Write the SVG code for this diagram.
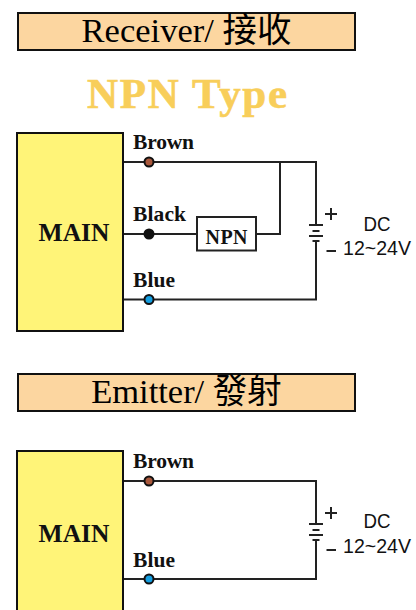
<svg xmlns="http://www.w3.org/2000/svg" width="416" height="610" viewBox="0 0 416 610">
<style>
.bar{fill:#fcd6a0;stroke:#111;stroke-width:2}
.main{fill:#fff478;stroke:#111;stroke-width:2}
.wire{fill:none;stroke:#222;stroke-width:2}
.cap{font-family:"Liberation Serif","Noto Sans CJK TC",serif;font-size:34.5px;fill:#000;text-anchor:middle}
.lab{font-family:"Liberation Serif",serif;font-size:21.5px;font-weight:bold;fill:#111}
.mn{font-family:"Liberation Serif",serif;font-size:25.5px;font-weight:bold;fill:#111;text-anchor:middle}
.dc{font-family:"Liberation Sans",sans-serif;font-size:20.5px;fill:#111;text-anchor:middle}
.dot{stroke:#111;stroke-width:2}
</style>
<defs>
<g id="batt">
<path class="wire" d="M-7 -1H7M-3.500 5H3.500M-7 10H7M-3.500 15H3.500"/>
<path class="wire" d="M9 -12H21M15 -18V-6M10.500 25H20"/>
</g>
</defs>
<g id="receiver-title"><rect class="bar" x="18" y="13" width="337" height="37"/><text class="cap" x="186.500" y="42">Receiver/ 接收</text></g>
<text id="type-title" x="187" y="108" font-family="Liberation Serif,serif" font-size="43" font-weight="bold" fill="#f8ce5a" stroke="#f8ce5a" stroke-width=".6" text-anchor="middle" textLength="200">NPN Type</text>
<g id="connectors-top">
<path class="wire" d="M123 162H316V225M316 241V299.500H123M123 234H197M256 234H280V162"/>
</g>
<g id="main-top"><rect class="main" x="17" y="133" width="106" height="198"/><text class="mn" x="74" y="241">MAIN</text></g>
<g id="npn"><rect x="197" y="217" width="59" height="33.500" fill="#fff" stroke="#222" stroke-width="2"/><text x="226.500" y="244" font-family="Liberation Serif,serif" font-size="20" font-weight="bold" fill="#111" text-anchor="middle" textLength="42">NPN</text></g>
<g id="brown-top"><circle class="dot" cx="149" cy="162" r="4.500" fill="#a9583c"/><text class="lab" x="133" y="149" textLength="61">Brown</text></g>
<g id="black-top"><circle class="dot" cx="149" cy="234" r="4.500" fill="#111"/><text class="lab" x="133" y="221" textLength="53">Black</text></g>
<g id="blue-top"><circle class="dot" cx="149" cy="299.500" r="4.500" fill="#149ee0"/><text class="lab" x="133" y="287" textLength="42">Blue</text></g>
<g id="supply-top"><use href="#batt" x="316" y="226"/><text class="dc" x="377" y="231" textLength="27" lengthAdjust="spacingAndGlyphs">DC</text><text class="dc" x="377" y="255" textLength="68" lengthAdjust="spacingAndGlyphs">12~24V</text></g>
<g id="emitter-title"><rect class="bar" x="18" y="374" width="337" height="37"/><text class="cap" x="186.500" y="403">Emitter/ 發射</text></g>
<g id="connectors-bottom">
<path class="wire" d="M123 481H316V524M316 541V579H123"/>
</g>
<g id="main-bottom"><rect class="main" x="17" y="451" width="106" height="165"/><text class="mn" x="74" y="542">MAIN</text></g>
<g id="brown-bottom"><circle class="dot" cx="149" cy="481" r="4.500" fill="#a9583c"/><text class="lab" x="133" y="468" textLength="61">Brown</text></g>
<g id="blue-bottom"><circle class="dot" cx="149" cy="579" r="4.500" fill="#149ee0"/><text class="lab" x="133" y="567" textLength="42">Blue</text></g>
<g id="supply-bottom"><use href="#batt" x="316" y="525"/><text class="dc" x="377" y="528" textLength="27" lengthAdjust="spacingAndGlyphs">DC</text><text class="dc" x="377" y="553" textLength="68" lengthAdjust="spacingAndGlyphs">12~24V</text></g>
</svg>
